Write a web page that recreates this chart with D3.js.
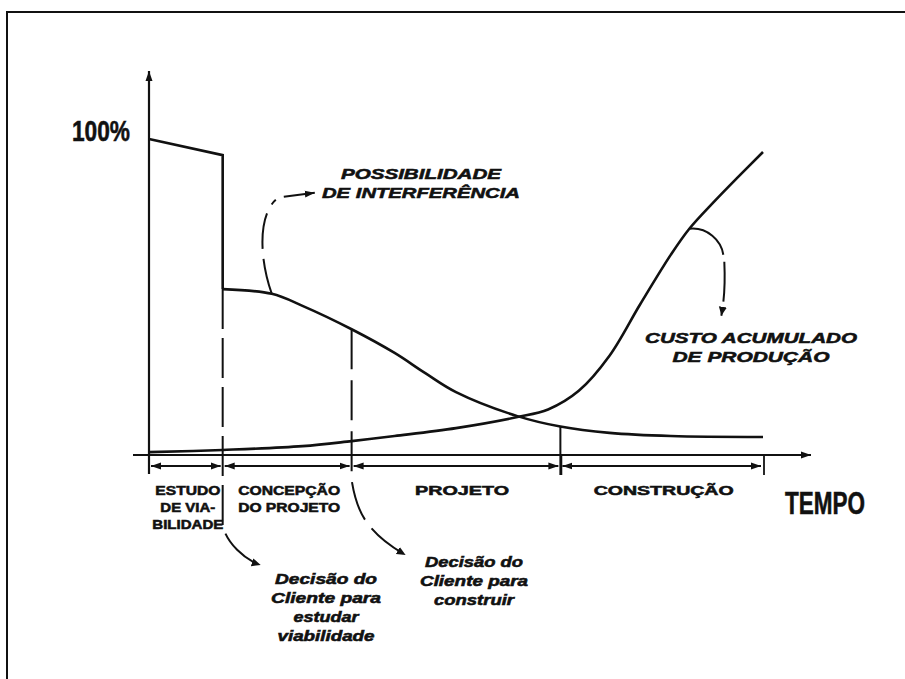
<!DOCTYPE html>
<html>
<head>
<meta charset="utf-8">
<script src="https://cdn.jsdelivr.net/npm/d3@7"></script>
<style>
  body { margin: 0; background: #fff; }
  svg { display: block; }
  text { font-family: "Liberation Sans", Arial, Helvetica, sans-serif; font-weight: bold; fill: #111; stroke: #111; stroke-width: 0.55; }
</style>
</head>
<body>
<svg id="chart" width="905" height="679"></svg>
<script>
// ---------- DATA ----------
const phaseBounds = [0, 12, 33, 67, 100];           // % of total time
const phaseLabels = [
  ["ESTUDO", "DE VIA-", "BILIDADE"],
  ["CONCEPÇÃO", "DO PROJETO"],
  ["PROJETO"],
  ["CONSTRUÇÃO"]
];
// "Possibilidade de interferência" : plateau during feasibility, then drop
const possStepT = [0, 12, 12];
const possStepV = [100, 94.9, 52.5];
const possTailT = [12, 20, 25, 33, 40, 45, 50, 60, 67, 75, 85, 100];
const possTailV = [52.5, 51.0, 47.2, 39.8, 32.3, 25.9, 19.9, 12.3, 9.0, 7.0, 6.0, 5.7];
// "Custo acumulado de produção"
const costT = [0, 12, 25, 33, 40, 50, 60, 65, 70, 75, 80, 85, 88, 92, 96, 100];
const costV = [0.9, 1.6, 2.8, 4.4, 6.0, 8.5, 12.0, 14.4, 20.3, 31.4, 47.7, 63.4, 71.6, 80.1, 88.1, 95.9];
const yLabel = "100%";
const xLabel = "TEMPO";
const possLabel = ["POSSIBILIDADE", "DE INTERFERÊNCIA"];
const costLabel = ["CUSTO ACUMULADO", "DE PRODUÇÃO"];
const decision1 = ["Decisão do", "Cliente para", "estudar", "viabilidade"];
const decision2 = ["Decisão do", "Cliente para", "construir"];

// ---------- SCALES ----------
const svg = d3.select("#chart");
const x = d3.scaleLinear().domain([0, 100]).range([149, 763]);
const y = d3.scaleLinear().domain([0, 100]).range([455, 139]);
const ink = "#111";

// frame
svg.append("path").attr("d", "M7,679 L7,12 L905,12")
  .attr("fill", "none").attr("stroke", ink).attr("stroke-width", 2);

// markers
const defs = svg.append("defs");
defs.append("marker").attr("id", "ah").attr("viewBox", "0 -5 10 10")
  .attr("refX", 10).attr("refY", 0).attr("markerWidth", 10).attr("markerHeight", 10)
  .attr("markerUnits", "userSpaceOnUse").attr("orient", "auto-start-reverse")
  .append("path").attr("d", "M0,-3.5L10,0L0,3.5Z").attr("fill", ink);
defs.append("marker").attr("id", "ahs").attr("viewBox", "0 -5 10 10")
  .attr("refX", 10).attr("refY", 0).attr("markerWidth", 9).attr("markerHeight", 9)
  .attr("markerUnits", "userSpaceOnUse").attr("orient", "auto")
  .append("path").attr("d", "M0,-4.5L10,0L0,4.5Z").attr("fill", ink);

// axes
svg.append("line").attr("x1", x(0)).attr("x2", x(0)).attr("y1", 474).attr("y2", 71)
  .attr("stroke", ink).attr("stroke-width", 2.2).attr("marker-end", "url(#ah)");
svg.append("line").attr("x1", 133).attr("x2", 811).attr("y1", y(0)).attr("y2", y(0))
  .attr("stroke", ink).attr("stroke-width", 2.2).attr("marker-end", "url(#ah)");

// axis titles
svg.append("text").attr("x", 101).attr("y", 131).attr("dy", "0.36em")
  .attr("text-anchor", "middle").attr("font-size", 29).attr("stroke-width", 0.9)
  .attr("textLength", 58).attr("lengthAdjust", "spacingAndGlyphs").text(yLabel);
svg.append("text").attr("x", 825).attr("y", 503).attr("dy", "0.36em")
  .attr("text-anchor", "middle").attr("font-size", 31).attr("stroke-width", 0.9)
  .attr("textLength", 80).attr("lengthAdjust", "spacingAndGlyphs").text(xLabel);

// phase dimension lines
const dimY = 466;
for (let i = 0; i < phaseBounds.length - 1; i++) {
  svg.append("line")
    .attr("x1", x(phaseBounds[i]) + 2).attr("x2", x(phaseBounds[i + 1]) - 2)
    .attr("y1", dimY).attr("y2", dimY)
    .attr("stroke", ink).attr("stroke-width", 2)
    .attr("marker-start", "url(#ah)").attr("marker-end", "url(#ah)");
}
// end ticks
[phaseBounds[3], phaseBounds[4]].forEach(b => {
  svg.append("line").attr("x1", x(b) + 1).attr("x2", x(b) + 1).attr("y1", 456).attr("y2", 475)
    .attr("stroke", ink).attr("stroke-width", 1.8);
});

// phase labels
const phaseLens = [[65, 55, 71], [102, 102], [94], [140]];
phaseLabels.forEach((lines, i) => {
  const cx = (x(phaseBounds[i]) + x(phaseBounds[i + 1])) / 2 + (i === 2 ? 6 : 2);
  lines.forEach((t, j) => {
    svg.append("text").attr("x", cx).attr("y", 490 + j * 17).attr("dy", "0.36em")
      .attr("text-anchor", "middle").attr("font-size", 13)
      .attr("textLength", phaseLens[i][j]).attr("lengthAdjust", "spacingAndGlyphs")
      .text(t);
  });
});

// curves
const possStep = d3.line().x((d, i) => x(possStepT[i])).y((d, i) => y(possStepV[i]));
svg.append("path").attr("d", possStep(possStepT))
  .attr("fill", "none").attr("stroke", ink).attr("stroke-width", 2.6);
const curve = d3.line().curve(d3.curveCatmullRom.alpha(0.5));
svg.append("path")
  .attr("d", curve(possTailT.map((t, i) => [x(t), y(possTailV[i])])))
  .attr("fill", "none").attr("stroke", ink).attr("stroke-width", 2.6);
svg.append("path")
  .attr("d", curve(costT.map((t, i) => [x(t), y(costV[i])])))
  .attr("fill", "none").attr("stroke", ink).attr("stroke-width", 2.6);

// boundary dashed lines with decision arrows
const tb1 = phaseBounds[1], tb2 = phaseBounds[2], tb3 = phaseBounds[3];
const poss = d3.scaleLinear().domain(possTailT).range(possTailV);
const x1 = x(tb1), x2 = x(tb2);
svg.append("path")
  .attr("d", `M${x1},${y(possStepV[2])} L${x1},525 C${x1 + 3},542 ${x1 + 22},560 ${x1 + 38},565`)
  .attr("fill", "none").attr("stroke", ink).attr("stroke-width", 2)
  .attr("stroke-dasharray", "40,9").attr("marker-end", "url(#ahs)");
svg.append("path")
  .attr("d", `M${x2},${y(poss(tb2))} L${x2},480 C${x2 + 4},505 ${x2 + 10},530 ${x2 + 54},555`)
  .attr("fill", "none").attr("stroke", ink).attr("stroke-width", 2)
  .attr("stroke-dasharray", "40,11").attr("marker-end", "url(#ahs)");
// solid boundary between projeto and construção
svg.append("line").attr("x1", x(tb3)).attr("x2", x(tb3))
  .attr("y1", y(poss(tb3))).attr("y2", 475).attr("stroke", ink).attr("stroke-width", 2);

// decision labels
function block(lines, cx, y0, lens) {
  lines.forEach((t, j) => {
    svg.append("text").attr("x", cx).attr("y", y0 + j * 19).attr("dy", "0.36em")
      .attr("text-anchor", "middle").attr("font-size", 14).attr("font-style", "italic")
      .attr("textLength", lens[j]).attr("lengthAdjust", "spacingAndGlyphs").text(t);
  });
}
block(decision1, 326, 579, [102, 110, 65, 97]);
block(decision2, 474, 562, [98, 108, 80]);

// possibility annotation
const pxA = x(20), pyA = y(poss(20));
svg.append("path")
  .attr("d", `M${pxA},${pyA} C${pxA - 14},${pyA - 40} ${pxA - 12},${pyA - 80} ${pxA + 4},${pyA - 94}`)
  .attr("fill", "none").attr("stroke", ink).attr("stroke-width", 2).attr("stroke-dasharray", "36,10");
svg.append("path").attr("d", `M${pxA + 12},${pyA - 97} L${pxA + 43},${pyA - 101}`)
  .attr("fill", "none").attr("stroke", ink).attr("stroke-width", 2).attr("marker-end", "url(#ah)");
[[possLabel[0], 174, 160], [possLabel[1], 193, 198]].forEach(([t, yy, len]) => {
  svg.append("text").attr("x", 421).attr("y", yy).attr("dy", "0.36em")
    .attr("text-anchor", "middle").attr("font-size", 15).attr("font-style", "italic")
    .attr("textLength", len).attr("lengthAdjust", "spacingAndGlyphs").text(t);
});

// cost annotation
const cost = d3.scaleLinear().domain(costT).range(costV);
const cxA = x(88), cyA = y(cost(88));
svg.append("path")
  .attr("d", `M${cxA},${cyA} C${cxA + 18},${cyA - 2} ${cxA + 32},${cyA + 12} ${cxA + 34},${cyA + 26}`)
  .attr("fill", "none").attr("stroke", ink).attr("stroke-width", 2);
svg.append("path")
  .attr("d", `M${cxA + 35},${cyA + 33} C${cxA + 36},${cyA + 55} ${cxA + 35},${cyA + 70} ${cxA + 32},${cyA + 87}`)
  .attr("fill", "none").attr("stroke", ink).attr("stroke-width", 2)
  .attr("stroke-dasharray", "40,8").attr("marker-end", "url(#ahs)");
[[costLabel[0], 338, 212], [costLabel[1], 357, 157]].forEach(([t, yy, len]) => {
  svg.append("text").attr("x", 751).attr("y", yy).attr("dy", "0.36em")
    .attr("text-anchor", "middle").attr("font-size", 15).attr("font-style", "italic")
    .attr("textLength", len).attr("lengthAdjust", "spacingAndGlyphs").text(t);
});
</script>
</body>
</html>
